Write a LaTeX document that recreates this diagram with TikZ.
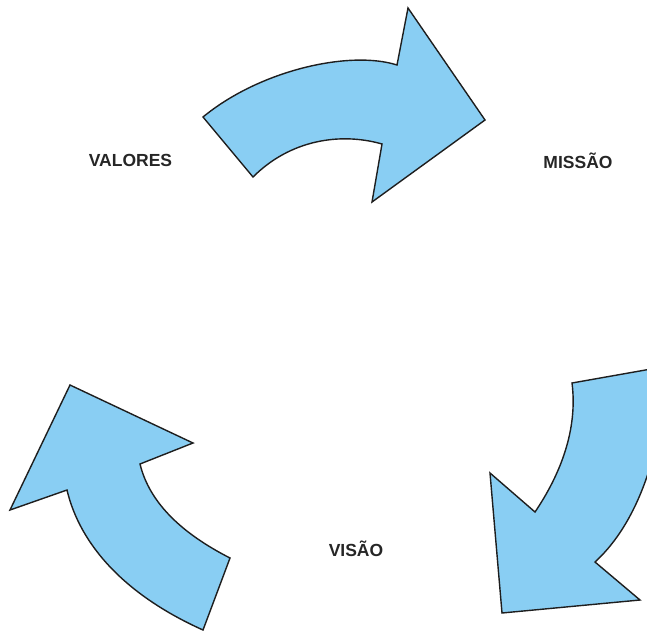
\documentclass[tikz,border=0pt]{standalone}
\usepackage{fontspec}
\setmainfont{Liberation Sans}
\definecolor{arrowblue}{RGB}{137,206,243}
\definecolor{edgegray}{RGB}{30,30,30}
\begin{document}
\begin{tikzpicture}[x=1pt,y=-1pt,
  bigarrow/.style={fill=arrowblue,draw=edgegray,line width=1.4pt,line join=miter},
  lbl/.style={font=\fontsize{17.5}{20}\selectfont\bfseries,text=black!85,inner sep=0pt}]
\useasboundingbox (0,0) rectangle (647,632);
\begin{scope}
\clip (0,0) rectangle (647,632);
% top arrow
\draw[bigarrow] (203,117) .. controls (260,70) and (350,50) .. (397,65)
  -- (408,8) -- (485,120) -- (372,202) -- (382,144)
  .. controls (340,132) and (290,140) .. (253,177) -- cycle;
% right arrow
\draw[bigarrow] (572,383) -- (668,366)
  .. controls (660,470) and (630,530) .. (595,562)
  -- (640,600) -- (502,613) -- (490,473) -- (535,512)
  .. controls (560,475) and (578,430) .. (572,383) -- cycle;
% left arrow
\draw[bigarrow] (70,385) -- (193,443) -- (140,464)
  .. controls (150,505) and (185,535) .. (230,558)
  -- (203,630)
  .. controls (125,595) and (80,545) .. (67,490)
  -- (10,510) -- cycle;
\end{scope}
\node[lbl] (valores) at (130.5,160.5) {VALORES};
\node[lbl] (missao) at (578,161) {MISSÃO};
\node[lbl] (visao) at (356,549) {VISÃO};
\end{tikzpicture}
\end{document}
